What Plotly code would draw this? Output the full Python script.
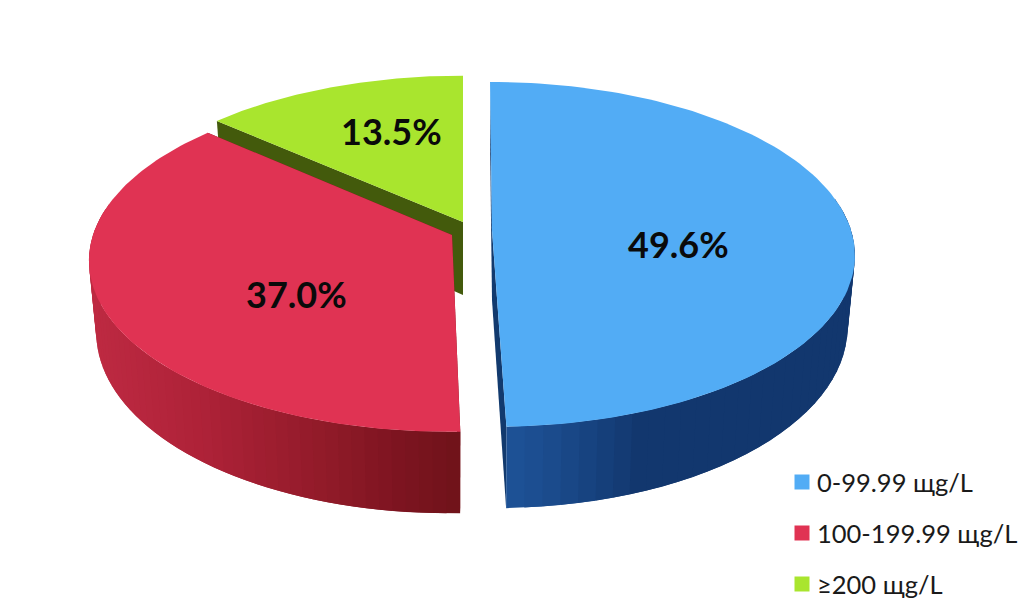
import math
import plotly.graph_objects as go

# ---- data ----
categories = ["0-99.99 щg/L", "100-199.99 щg/L", "≥200 щg/L"]
values = [49.6, 37.0, 13.5]

# ---- styles ----
top_colors = ["#52ACF5", "#E03353", "#A9E52E"]
wall_colors = ["#123A6E", "#7C1019", "#435A0C"]
side_stops = [
    [(505, "#1E5398"), (560, "#1A4A8A"), (640, "#12376E"), (860, "#12376E")],
    [(88, "#BE2A42"), (200, "#AE2238"), (330, "#8F1A28"), (400, "#7D1420"), (465, "#6E1319")],
    [(200, "#435A0C"), (470, "#435A0C")],
]
# apex x, apex y, shear of the depth axis, for each exploded slice
apex = [(492, 230, 2.25), (452, 235, -3), (463, 222, 0)]
RX = [359, 359, 359]
RY = [169, 169, 167]
THICK = [70, 70, 73]   # height of each slice
P = 0.141              # perspective strength
SHRINK = 0.98          # lower face is slightly narrower
label_pos = [(678, 244), (296, 294), (391, 131)]
legend_x = 802
legend_text_x = 817
legend_y = [482, 533, 584]


def hex_rgb(c):
    return tuple(int(c[i:i + 2], 16) for i in (1, 3, 5))


def color_at(stops, x):
    if x <= stops[0][0]:
        return stops[0][1]
    for (x0, c0), (x1, c1) in zip(stops, stops[1:]):
        if x <= x1:
            t = (x - x0) / (x1 - x0)
            a, b = hex_rgb(c0), hex_rgb(c1)
            return "#%02X%02X%02X" % tuple(round(p + (q - p) * t) for p, q in zip(a, b))
    return stops[-1][1]


def project(i, theta, r=1.0, drop=False):
    """Map a point of slice i (clockwise degrees from the back) to the page."""
    cx, cy, s = apex[i]
    u, v = r * math.sin(math.radians(theta)), -r * math.cos(math.radians(theta))
    d = 1 - P * v
    x = (RX[i] * u + s * v) / d
    y = cy + RY[i] * v / d
    if drop:
        x *= SHRINK
        y += THICK[i] / d
    return cx + x, y


def poly(xs, ys, color):
    return go.Scatter(
        x=xs, y=ys, mode="lines", fill="toself", fillcolor=color,
        line=dict(color=color, width=0),
        hoverinfo="skip", showlegend=False,
    )


total = sum(values)
edges = [0.0]
for v in values:
    edges.append(edges[-1] + 360 * v / total)

fig = go.Figure()

# paint back to front: green, red, blue
for i in (2, 1, 0):
    a0, a1 = edges[i], edges[i + 1]
    n = 70
    step = (a1 - a0) / n
    # flat cut walls from the apex to each rim end
    for a in (a0, a1):
        p = project(i, a)
        q = project(i, a, drop=True)
        c0 = project(i, a, r=0)
        c1 = project(i, a, r=0, drop=True)
        fig.add_trace(poly([c0[0], p[0], q[0], c1[0]], [c0[1], p[1], q[1], c1[1]], wall_colors[i]))
    # curved outer wall as thin overlapping strips shaded along x
    order = range(n) if i != 0 else range(n - 1, -1, -1)
    for k in order:
        t0 = a0 + step * k
        t1 = t0 + step
        if -math.cos(math.radians((t0 + t1) / 2)) < -0.15:
            continue
        col = color_at(side_stops[i], (project(i, t0)[0] + project(i, t1)[0]) / 2)
        # each strip reaches under the one painted after it, so no seams show
        lo, hi = (t0, t1 + step) if i != 0 else (t0 - step, t1)
        lo, hi = max(lo, a0), min(hi, a1)
        p0, p1 = project(i, lo), project(i, hi)
        q0, q1 = project(i, lo, drop=True), project(i, hi, drop=True)
        fig.add_trace(poly([p0[0], p1[0], q1[0], q0[0]], [p0[1], p1[1], q1[1], q0[1]], col))
    # top face
    pts = [project(i, a0 + (a1 - a0) * k / 120) for k in range(121)]
    cx, cy, _ = apex[i]
    fig.add_trace(poly([cx] + [p[0] for p in pts], [cy] + [p[1] for p in pts], top_colors[i]))

# key: square swatch plus its label
for name, col, y in zip(categories, top_colors, legend_y):
    fig.add_trace(go.Scatter(
        x=[legend_x], y=[y], mode="markers", name=name,
        marker=dict(symbol="square", size=15, color=col),
        hoverinfo="name", showlegend=False,
    ))
    fig.add_annotation(
        x=legend_text_x, y=y, text=name, showarrow=False, xanchor="left", xshift=-2,
        font=dict(family="Lato", size=25.5, color="#1A1A1A"),
    )

# value labels
for (x, y), v in zip(label_pos, values):
    fig.add_annotation(
        x=x, y=y, text=f"<b>{v:.1f}%</b>", showarrow=False,
        font=dict(family="Lato", size=36, color="#0A0A0A"),
    )

fig.update_layout(
    width=1024, height=613, margin=dict(l=0, r=0, t=0, b=0),
    paper_bgcolor="white", plot_bgcolor="white", showlegend=False,
    xaxis=dict(range=[0, 1024], visible=False, fixedrange=True),
    yaxis=dict(range=[613, 0], visible=False, fixedrange=True),
)
fig.write_html(
    "out.html", config={"displayModeBar": False},
    post_script="document.body.style.margin='0';document.documentElement.style.overflow='hidden';",
)
